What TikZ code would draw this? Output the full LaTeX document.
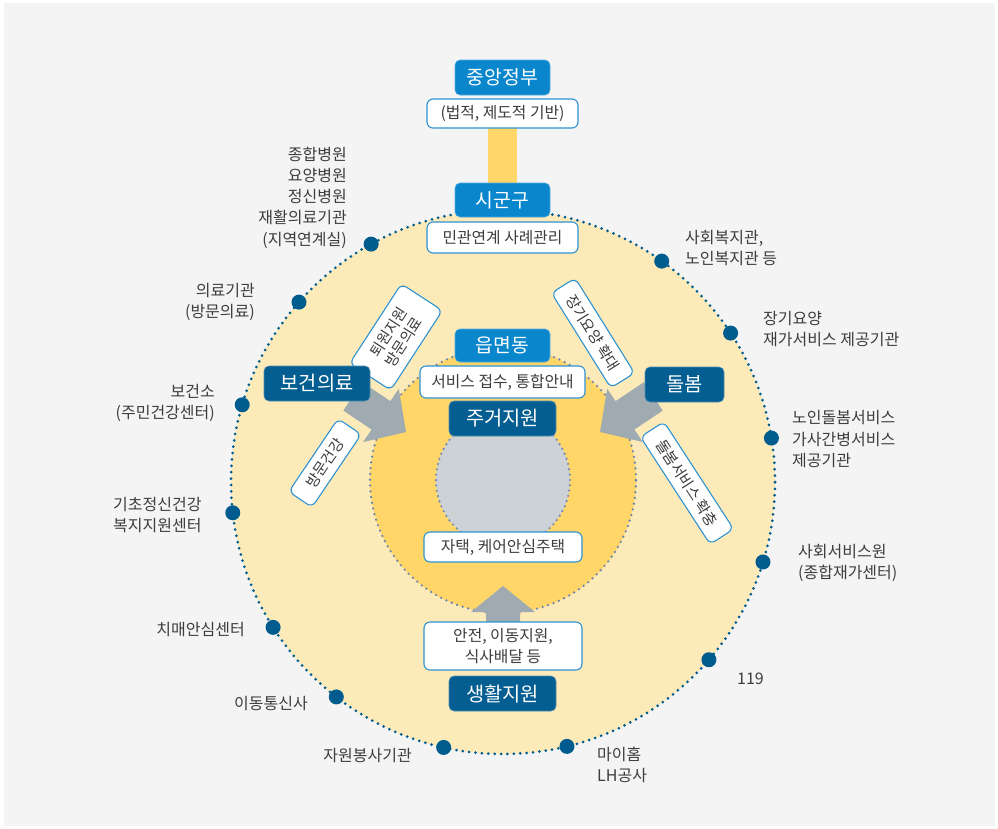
\documentclass[tikz,border=0pt]{standalone}
\usepackage{fontspec}
\setmainfont{Noto Sans CJK KR}
\definecolor{cbg}{HTML}{F4F4F4}
\definecolor{couter}{HTML}{FDEAB9}
\definecolor{cmid}{HTML}{FFD667}
\definecolor{cgrey}{HTML}{CDD2D6}
\definecolor{cblue}{HTML}{0A87CC}
\definecolor{cdark}{HTML}{045E91}
\definecolor{carrow}{HTML}{A0ABB1}
\definecolor{cline}{HTML}{2E93D3}
\definecolor{ctext}{HTML}{3D3D3D}
\definecolor{cdot}{HTML}{005C8F}
\definecolor{cmiddot}{HTML}{6F87AC}
\tikzset{
  bluebox/.style={fill=cblue, draw=cblue!70!white, line width=0.6pt, rounded corners=5pt, text=white,
    font=\fontsize{19.3}{21}\selectfont, inner sep=0pt},
  darkbox/.style={fill=cdark, draw=cdark!70!white, line width=0.6pt, rounded corners=5pt, text=white,
    font=\fontsize{19.8}{21}\selectfont, inner sep=0pt},
  whitebox/.style={fill=white, draw=cline, line width=1.1pt, rounded corners=6pt, text=ctext,
    font=\fontsize{15.8}{21}\selectfont, inner sep=0pt, align=center},
  rotbox/.style={fill=white, draw=cline, line width=1.1pt, rounded corners=6pt, text=ctext,
    font=\fontsize{15}{18}\selectfont, inner sep=0pt, align=center},
  lbl/.style={font=\fontsize{16}{21.3}\selectfont, text=ctext, inner sep=0pt},
  bigdot/.style={circle, fill=cdot, minimum size=15pt, inner sep=0pt},
  arrowshape/.style={fill=carrow},
}
\begin{document}
\begin{tikzpicture}[x=1pt, y=-1pt]
\useasboundingbox (0,0) rectangle (998,828);
\fill[white] (0,0) rectangle (998,828);
\fill[cbg] (4,3) rectangle (995,826);

\coordinate (c) at (503,482);
\coordinate (m) at (503,480);

% rings
\fill[couter] (c) circle (272pt);
\draw[cdot, line width=3pt, line cap=round, dash pattern=on 0pt off 6.4pt] (c) circle (272pt);
\fill[cmid] (m) circle (133pt);
\draw[cmiddot, line width=2.6pt, line cap=round, dash pattern=on 0pt off 5.8pt] (m) circle (133pt);
\fill[cgrey] (m) circle (67pt);
\draw[cmiddot, line width=2.4pt, line cap=round, dash pattern=on 0pt off 5.4pt] (m) circle (67pt);

% top bar
\fill[cmid] (488,126) rectangle (517,185);

% arrows
\fill[arrowshape] (406,432) -- (398.8,388.7) -- (390.4,401.1) -- (362.1,382.2) -- (343.3,410.6) -- (371.6,429.5) -- (363.2,442) -- cycle;
\fill[arrowshape] (600,432) -- (607.2,388.7) -- (615.6,401.1) -- (643.9,382.2) -- (662.7,410.6) -- (634.4,429.5) -- (642.8,442) -- cycle;
\fill[arrowshape] (503,586) -- (535,612) -- (520,612) -- (520,625) -- (486,625) -- (486,612) -- (471,612) -- cycle;

% rotated boxes
\node[rotbox, minimum width=95pt, minimum height=49pt, rotate=57] (r1) at (396,337) {퇴원지원\\방문의료};
\node[rotbox, minimum width=112pt, minimum height=28pt, rotate=-58] (r2) at (593,333) {장기요양 확대};
\node[rotbox, minimum width=88pt, minimum height=28pt, rotate=56] (r3) at (325,463) {방문건강};
\node[rotbox, minimum width=128pt, minimum height=28pt, rotate=-57] (r4) at (687,483) {돌봄서비스 확충};

% central column boxes
\node[bluebox, minimum width=95pt, minimum height=35pt] (gov) at (502.5,77.5) {중앙정부};
\node[whitebox, minimum width=151pt, minimum height=29pt] (gov2) at (502.5,113.5) {(법적, 제도적 기반)};
\node[bluebox, minimum width=95pt, minimum height=34pt] (sgg) at (502.5,200) {시군구};
\node[whitebox, minimum width=151pt, minimum height=31pt] (sgg2) at (502.5,237.5) {민관연계 사례관리};
\node[bluebox, minimum width=95pt, minimum height=33pt] (eup) at (502.5,345.5) {읍면동};
\node[whitebox, minimum width=165pt, minimum height=32pt] (eup2) at (502.5,382) {서비스 접수, 통합안내};
\node[darkbox, minimum width=107pt, minimum height=35pt] (house) at (502.5,418.5) {주거지원};
\node[whitebox, minimum width=158pt, minimum height=30pt] (home) at (503,547) {자택, 케어안심주택};
\node[whitebox, minimum width=158pt, minimum height=48pt] (life2) at (503,646) {안전, 이동지원,\\식사배달 등};
\node[darkbox, minimum width=107pt, minimum height=35pt] (life) at (502.5,693.5) {생활지원};
\node[darkbox, minimum width=106pt, minimum height=35pt] (health) at (317,383.5) {보건의료};
\node[darkbox, minimum width=79pt, minimum height=35pt] (care) at (684.5,384.5) {돌봄};

% dots on the outer ring
\path (c) ++(-119:272) node[bigdot] (d1) {};
\path (c) ++(-138.6:272) node[bigdot] (d2) {};
\path (c) ++(-163.5:272) node[bigdot] (d3) {};
\path (c) ++(173.5:272) node[bigdot] (d4) {};
\path (c) ++(147.7:272) node[bigdot] (d5) {};
\path (c) ++(127.8:272) node[bigdot] (d6) {};
\path (c) ++(102.6:272) node[bigdot] (d7) {};
\path (c) ++(76.4:272) node[bigdot] (d8) {};
\path (c) ++(40.8:272) node[bigdot] (d9) {};
\path (c) ++(17.1:272) node[bigdot] (d10) {};
\path (c) ++(-9.3:272) node[bigdot] (d11) {};
\path (c) ++(-33.2:272) node[bigdot] (d12) {};
\path (c) ++(-54.3:272) node[bigdot] (d13) {};

% labels
\node[lbl, anchor=east, align=right] (l1) at (347,197.5) {종합병원\\요양병원\\정신병원\\재활의료기관\\(지역연계실)};
\node[lbl, anchor=east, align=right] (l2) at (255,302) {의료기관\\(방문의료)};
\node[lbl, anchor=east, align=right] (l3) at (215,403) {보건소\\(주민건강센터)};
\node[lbl, anchor=west, align=left] (l4) at (113,515) {기초정신건강\\복지지원센터};
\node[lbl, anchor=east] (l5) at (245,630) {치매안심센터};
\node[lbl, anchor=east] (l6) at (308,704) {이동통신사};
\node[lbl, anchor=east] (l7) at (412,755) {자원봉사기관};
\node[lbl, anchor=west, align=left] (r1l) at (685,248) {사회복지관,\\노인복지관 등};
\node[lbl, anchor=west, align=left] (r2l) at (763,329) {장기요양\\재가서비스 제공기관};
\node[lbl, anchor=west, align=left] (r3l) at (792,439) {노인돌봄서비스\\가사간병서비스\\제공기관};
\node[lbl, anchor=west, align=left] (r4l) at (798,563) {사회서비스원\\(종합재가센터)};
\node[lbl, anchor=west] (r5l) at (737,679) {119};
\node[lbl, anchor=west, align=left] (r6l) at (597,765) {마이홈\\LH공사};
\end{tikzpicture}
\end{document}
